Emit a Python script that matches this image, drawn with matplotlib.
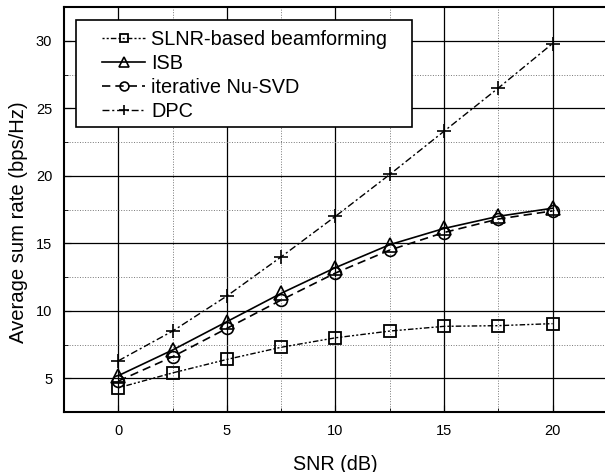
import matplotlib
matplotlib.use("Agg")
import matplotlib.pyplot as plt
from matplotlib.ticker import MultipleLocator
from matplotlib.patches import Rectangle

plt.rcParams['font.family'] = ['Liberation Sans', 'DejaVu Sans']

snr = [0, 2.5, 5, 7.5, 10, 12.5, 15, 17.5, 20]
slnr = [4.3, 5.4, 6.4, 7.3, 8.0, 8.5, 8.85, 8.9, 9.05]
isb = [5.2, 7.1, 9.2, 11.3, 13.2, 14.9, 16.1, 17.0, 17.6]
nusvd = [4.8, 6.6, 8.7, 10.8, 12.8, 14.5, 15.8, 16.8, 17.4]
dpc = [6.3, 8.5, 11.1, 14.0, 17.0, 20.1, 23.3, 26.5, 29.8]

labels = ['SLNR-based beamforming', 'ISB', 'iterative Nu-SVD', 'DPC']
xticks = [0, 5, 10, 15, 20]
yticks = [5, 10, 15, 20, 25, 30]

fig = plt.figure(figsize=(6.05, 4.72), dpi=100)
ax = fig.add_axes([0.106, 0.127, 0.897, 0.858])

ax.set_xlim(-2.5, 22.5)
ax.set_ylim(2.5, 32.5)
ax.xaxis.set_minor_locator(MultipleLocator(2.5))
ax.yaxis.set_minor_locator(MultipleLocator(2.5))
ax.set_xticks(xticks)
ax.set_yticks(yticks)
ax.grid(True, which='major', color='black', linewidth=0.9, linestyle='-')
ax.grid(True, which='minor', color='#777777', linewidth=0.7, linestyle=':')
ax.set_axisbelow(True)
ax.tick_params(which='both', direction='in', labelsize=10.5, pad=8.5)
ax.tick_params(which='major', length=5)
ax.tick_params(which='minor', length=3)
for s in ax.spines.values():
    s.set_linewidth(1.5)

ax.plot(snr, slnr, color='black', lw=1.0, dashes=[1.5, 1.5, 1.5, 1.5, 4, 1.5],
        marker='s', ms=8, mfc='none', mec='black', mew=1.3, label=labels[0])
ax.plot(snr, isb, color='black', lw=1.2, linestyle='-',
        marker='^', ms=9.5, mfc='none', mec='black', mew=1.2, label=labels[1])
ax.plot(snr, nusvd, color='black', lw=1.2, dashes=[5, 3],
        marker='o', ms=8.5, mfc='none', mec='black', mew=1.2, label=labels[2])
ax.plot(snr, dpc, color='black', lw=1.0, dashes=[5, 2, 1.5, 2],
        marker='+', ms=10, mec='black', mew=1.2, label=labels[3])

# legend frame
ax.add_patch(Rectangle((0.022, 0.704), 0.619, 0.264, transform=ax.transAxes,
                       facecolor='white', edgecolor='black', linewidth=1.2,
                       zorder=4))
leg = ax.legend(loc='upper left', bbox_to_anchor=(0.070, 0.943), fontsize=14.3,
                frameon=False, handlelength=2.16, handletextpad=0.3,
                borderpad=0, borderaxespad=0, labelspacing=0.25,
                markerscale=0.75)
leg.set_zorder(5)

ax.set_xlabel('SNR (dB)', fontsize=14.2, labelpad=12)
ax.set_ylabel('Average sum rate (bps/Hz)', fontsize=14.6, labelpad=6)
ax.yaxis.label.set_y(0.469)

fig.savefig('out.png', dpi=100)
